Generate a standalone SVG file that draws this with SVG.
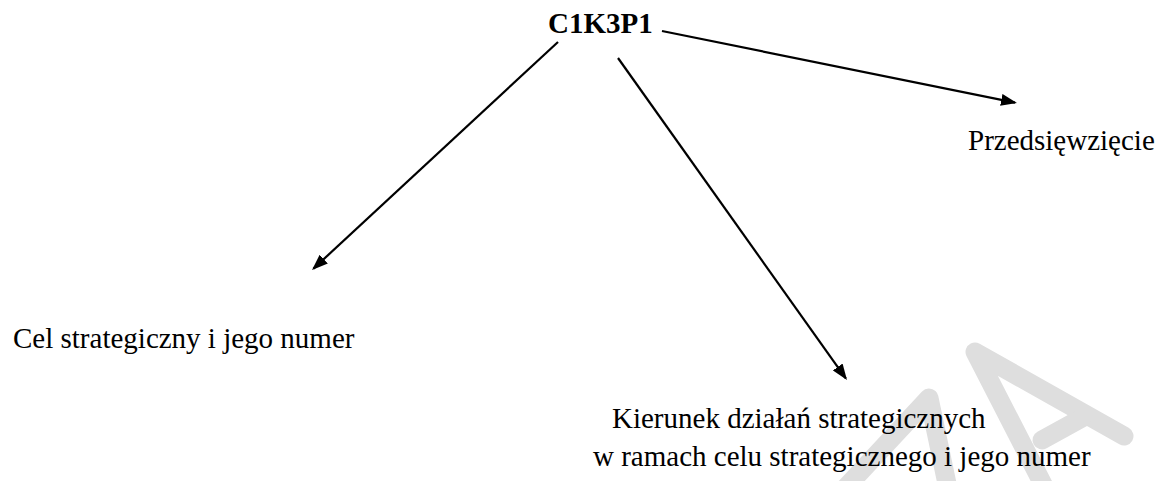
<svg xmlns="http://www.w3.org/2000/svg" width="1165" height="481" viewBox="0 0 1165 481">
  <style>
    .lbl { font-family: "Liberation Serif", "Times New Roman", serif; font-size: 29px; fill: #000; }
    .bold { font-weight: bold; }
    .conn { stroke: #000; stroke-width: 2.2; fill: none; marker-end: url(#ah); }
    .wm { stroke: #dedede; stroke-width: 19; fill: none; stroke-linecap: round; stroke-linejoin: round; }
  </style>
  <defs>
    <marker id="ah" markerUnits="userSpaceOnUse" markerWidth="16" markerHeight="12" refX="14" refY="6" orient="auto" viewBox="0 0 16 12">
      <path d="M0,0 L16,6 L0,12 Z" fill="#000"/>
    </marker>
  </defs>
  <rect width="1165" height="481" fill="#fff"/>
  <g id="watermark">
    <polyline class="wm" points="836,498 929,398 950,498"/>
    <polyline class="wm" points="1050,498 975,352 1124,436"/>
    <line class="wm" x1="1042" y1="440" x2="1082" y2="418"/>
  </g>
  <g id="connectors">
    <line class="conn" x1="662" y1="31" x2="1015" y2="102.6"/>
    <line class="conn" x1="558" y1="42" x2="313.5" y2="268.6"/>
    <line class="conn" x1="618" y1="58" x2="845.8" y2="378.4"/>
  </g>
  <g id="node-root">
    <text class="lbl bold" x="548" y="33">C1K3P1</text>
  </g>
  <g id="node-przedsiewziecie">
    <text class="lbl" x="968" y="150">Przedsięwzięcie</text>
  </g>
  <g id="node-cel">
    <text class="lbl" x="13" y="348">Cel strategiczny i jego numer</text>
  </g>
  <g id="node-kierunek">
    <text class="lbl" x="612" y="428">Kierunek działań strategicznych</text>
    <text class="lbl" x="593" y="466">w ramach celu strategicznego i jego numer</text>
  </g>
</svg>
